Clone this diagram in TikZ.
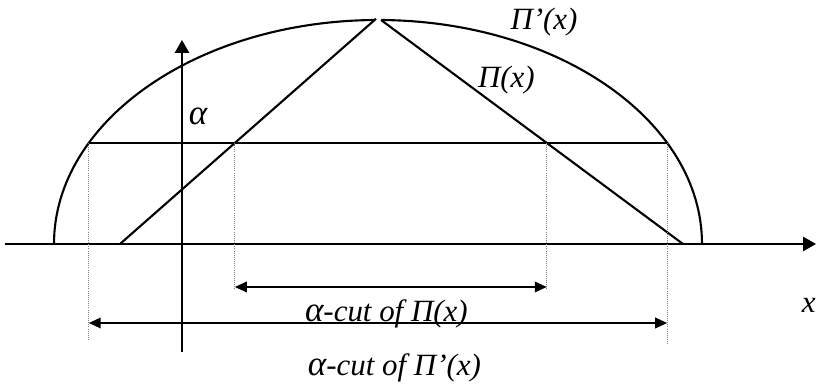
\documentclass[tikz,border=0pt]{standalone}
\usepackage{fontspec}
\setmainfont{Liberation Serif}
\usetikzlibrary{arrows.meta,intersections,calc}
\newcommand{\alp}{{\fontsize{25}{25}\selectfont α}}

\begin{document}
\begin{tikzpicture}[line width=1.5pt,
  lbl/.style={font=\fontsize{22}{26}\selectfont\itshape, inner sep=0pt},
  guide/.style={line width=0.5pt, densely dotted, gray},
  axis/.style={-{Triangle[length=3.2mm,width=3.5mm]}},
  span/.style={{Triangle[length=3mm,width=2.6mm]}-{Triangle[length=3mm,width=2.6mm]}}]
\useasboundingbox (-4.55,-3.525) rectangle (15.875,6.1);
\coordinate (C) at (4.9,0); \coordinate (L) at (-1.55,0); \coordinate (R) at (12.525,0); \coordinate (T1) at (4.85,5.63); \coordinate (T2) at (4.975,5.6);
\coordinate (xS) at (-4.425,0); \coordinate (xE) at (15.85,0); \coordinate (yS) at (0,-2.7); \coordinate (yE) at (0,5.1);
\coordinate (lowL) at (0,-2.4); \coordinate (lowR) at (0,-2.5); \coordinate (lowI) at (0,-1.15); \coordinate (inY) at (0,-1.075); \coordinate (outY) at (0,-1.975);
\draw[axis] (xS)--(xE);
\draw[axis] (yS)--(yE);
% Pi'(x)
\draw[name path=outerL] (C) ++(-8.1,0) arc[start angle=180,end angle=90.6,x radius=8.1,y radius=5.6];
\draw[name path=outerR] (C) ++(8.1,0) arc[start angle=0,end angle=89.4,x radius=8.1,y radius=5.6];
% Pi(x)
\draw[name path=innerL] (L)--(T1);
\draw[name path=innerR] (T2)--(R);
% alpha level
\path[name path=level] (-4,2.525)--(15,2.525);
\path[name intersections={of=level and outerL,by=A1}];
\path[name intersections={of=level and innerL,by=A2}];
\path[name intersections={of=level and innerR,by=A3}];
\path[name intersections={of=level and outerR,by=A4}];
\draw (A1)--(A4);
\draw[guide] (A1)--(A1 |- lowL);
\draw[guide] (A2)--(A2 |- lowI);
\draw[guide] (A3)--(A3 |- lowI);
\draw[guide] (A4)--(A4 |- lowR);
\draw[span] (A2 |- inY)--(A3 |- inY);
\draw[span] (A1 |- outY)--(A4 |- outY);
\node[lbl,anchor=base] (cutPi) at (5.11,-1.95) {\alp-cut of Π(x)};
\node[lbl,anchor=base] (cutPiP) at (5.31,-3.3) {\alp-cut of Π’(x)};
\node[lbl,anchor=base] (labPiP) at (9.05,5.35) {Π’(x)};
\node[lbl,anchor=base] (labPi) at (8.11,3.9) {Π(x)};
\node[lbl,anchor=base] (labAlpha) at (0.4,2.975) {\alp};
\node[lbl,anchor=base west] (labX) at (15.47,-1.725) {x};
\end{tikzpicture}
\end{document}
